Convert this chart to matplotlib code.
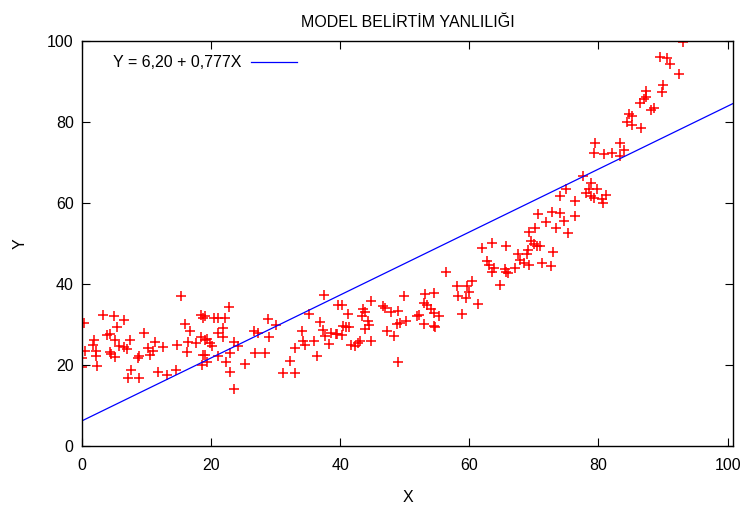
import matplotlib
matplotlib.use("Agg")
import matplotlib.pyplot as plt
import numpy as np

plt.rcParams['font.family'] = ['Liberation Sans', 'DejaVu Sans']

# data
x = [15.3, 0.3, 3.3, 5.0, 6.5, 5.4, 4.3, 3.9, 1.8, 1.7, 5.1, 7.5, 9.6, 5.8, 6.5, 7.0,
     0.4, 2.2, 2.2, 4.3, 4.5, 5.1, 0.0, 0.0, 2.4, 11.3, 10.3, 11.0, 12.6, 10.5, 8.9, 8.6,
     14.7, 16.2, 16.4, 16.7, 16.0, 17.7, 18.5, 18.8, 18.5, 19.0, 18.8, 18.6, 7.6, 7.1,
     8.9, 11.7, 13.1, 14.5,
     22.8, 37.5, 20.4, 21.1, 22.2, 19.1, 28.8, 35.2, 36.9, 39.7, 21.9, 21.0, 21.9, 26.7,
     27.3, 30.1, 28.9, 34.1, 37.3, 37.6, 38.6, 39.3, 19.3, 19.8, 20.1, 23.6, 24.2, 34.2,
     34.5, 35.9, 38.3, 33.0, 22.9, 26.8, 28.3, 19.1, 21.1, 19.3, 22.3, 25.2, 36.4, 32.2,
     22.9, 31.2, 33.0, 23.6,
     56.4, 40.2, 41.2, 44.8, 43.6, 43.9, 43.3, 44.3, 44.4, 43.8, 46.7, 46.9, 47.9, 49.0,
     49.8, 48.8, 49.3, 50.2, 40.4, 40.9, 41.3, 39.5, 40.3, 47.2, 48.3, 44.8, 41.7, 42.3,
     42.8, 43.1, 48.9, 53.1, 54.6, 52.9, 53.4, 54.1, 54.6, 55.3, 51.9, 52.2, 52.9, 54.5,
     54.7, 58.1, 59.6, 60.4, 58.3, 59.5, 59.9, 58.9,
     77.6, 78.9, 79.8, 78.1, 78.8, 79.3, 74.9, 74.1, 76.4, 76.4, 72.8, 74.1, 70.7, 71.8,
     74.6, 73.4, 75.3, 70.2, 69.3, 69.5, 70.0, 70.5, 71.0, 69.1, 68.9, 72.9, 67.6, 67.9,
     68.4, 69.3, 71.2, 72.7, 67.1, 62.0, 63.5, 65.7, 62.7, 63.1, 63.8, 63.5, 65.5, 65.7,
     66.0, 64.8, 61.3,
     93.1, 89.6, 90.6, 91.0, 92.4, 90.0, 89.9, 87.4, 87.3, 87.0, 86.4, 88.6, 88.2, 84.7,
     85.2, 84.4, 85.2, 86.6, 79.5, 83.3, 79.3, 80.9, 82.1, 83.9, 83.4, 78.5, 81.2, 80.6,
     80.7]
y = [37.0, 30.4, 32.4, 32.0, 31.0, 29.3, 27.6, 27.3, 26.2, 25.0, 26.2, 26.2, 28.0, 24.8,
     24.5, 23.9, 23.5, 23.5, 22.1, 23.3, 22.7, 21.9, 21.8, 19.6, 19.8, 25.7, 24.3, 23.5,
     24.5, 22.4, 22.1, 21.7, 25.0, 23.2, 25.6, 28.5, 30.0, 25.4, 32.4, 31.6, 26.9, 26.2,
     22.4, 20.0, 18.8, 16.9, 16.9, 18.2, 17.6, 18.7,
     34.4, 37.2, 31.6, 31.6, 31.6, 32.0, 31.4, 32.7, 30.6, 34.9, 29.1, 28.0, 26.9, 28.4,
     28.0, 29.8, 26.9, 28.4, 28.7, 27.1, 27.9, 27.6, 26.5, 25.4, 24.8, 25.7, 24.6, 25.8,
     25.0, 25.8, 25.2, 24.2, 22.9, 22.9, 22.9, 22.5, 22.1, 20.7, 20.7, 20.2, 22.1, 21.0,
     18.2, 18.0, 18.0, 14.1,
     43.0, 34.7, 32.6, 35.7, 33.7, 33.1, 32.0, 30.9, 29.8, 29.0, 34.5, 34.1, 33.1, 33.4,
     37.0, 30.0, 30.4, 30.8, 29.6, 29.3, 29.3, 27.6, 27.3, 28.4, 27.1, 26.0, 25.0, 24.8,
     25.4, 25.8, 20.7, 37.5, 37.8, 35.3, 34.9, 33.7, 32.8, 32.0, 32.0, 32.4, 30.0, 29.6,
     29.3, 39.4, 39.4, 40.7, 37.0, 36.5, 38.0, 32.6,
     66.7, 65.0, 63.4, 62.5, 61.7, 61.3, 63.4, 61.7, 60.5, 56.8, 57.8, 57.6, 57.2, 55.4,
     55.5, 53.7, 52.6, 53.9, 52.9, 50.6, 49.8, 49.3, 49.3, 48.5, 47.4, 47.9, 47.3, 46.0,
     45.2, 44.6, 45.2, 44.4, 44.0, 48.8, 50.2, 49.3, 45.6, 44.6, 44.0, 43.0, 43.6, 43.0,
     42.7, 39.7, 35.1,
     99.7, 96.1, 95.8, 94.3, 91.8, 89.2, 87.5, 87.7, 86.2, 85.6, 84.8, 83.4, 82.9, 81.9,
     81.5, 79.9, 79.3, 78.5, 74.7, 74.7, 72.4, 72.2, 72.4, 73.0, 71.6, 63.4, 62.0, 61.1,
     60.1]

intercept = 6.20
slope = 0.777
fit_label = 'Y = 6,20 + 0,777X'

fig = plt.figure(figsize=(7.42, 5.12), dpi=100)
ax = fig.add_axes([0.1105, 0.129, 0.8775, 0.791])

ax.plot(x, y, linestyle='none', marker='+', color='red', markersize=7,
        markeredgewidth=1.1)
xl = np.array([0, 100.85])
ax.plot(xl, intercept + slope * xl, color='blue', linewidth=0.9, label=fit_label)

ax.set_xlim(0, 100.85)
ax.set_ylim(0, 100)
ax.set_xticks([0, 20, 40, 60, 80, 100])
ax.set_yticks([0, 20, 40, 60, 80, 100])
ax.tick_params(direction='in', length=6, width=0.8, top=True, right=True,
               labelsize=11.5)
ax.tick_params(axis='x', pad=9)
ax.tick_params(axis='y', pad=6)
for s in ax.spines.values():
    s.set_linewidth(1.0)

ax.set_title('MODEL BELİRTİM YANLILIĞI', fontsize=11.5, pad=10)
ax.set_xlabel('X', fontsize=11.5, labelpad=12)
ax.set_ylabel('Y', fontsize=11.5, labelpad=14)

ax.legend(loc='upper left', frameon=False, markerfirst=False, fontsize=11.5,
          handlelength=2.9, handletextpad=0.6, bbox_to_anchor=(0.025, 1.0))

fig.savefig('out.png', dpi=100)
